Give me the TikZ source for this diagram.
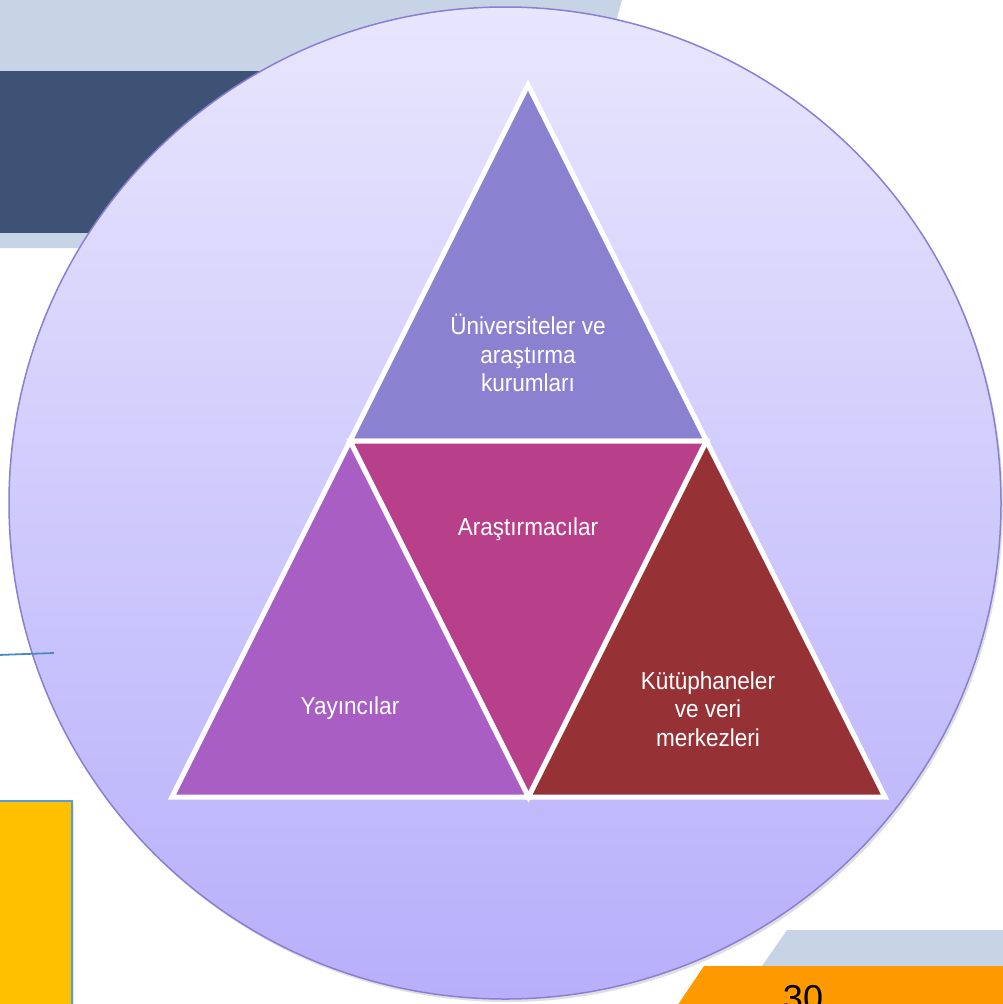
\documentclass[tikz,border=0pt]{standalone}
\usepackage{fontspec}
\setmainfont{Liberation Sans}
\newfontfamily\lblfont[FakeStretch=0.92]{Liberation Sans}
\usetikzlibrary{shadows}
\definecolor{bandlight}{HTML}{C6D4E6}
\definecolor{navy}{HTML}{3D5275}
\definecolor{circtop}{HTML}{E8E6FD}
\definecolor{circbot}{HTML}{B7AFFB}
\definecolor{circedge}{HTML}{8B7FD3}
\definecolor{tritop}{HTML}{8A82D0}
\definecolor{trimid}{HTML}{B83F8A}
\definecolor{trileft}{HTML}{A95EC4}
\definecolor{triright}{HTML}{963236}
\definecolor{linkblue}{HTML}{4A8AC0}
\definecolor{goldbox}{HTML}{FFC000}
\definecolor{boxedge}{HTML}{5B9BD5}
\definecolor{pageorange}{HTML}{FF9900}
\begin{document}
\begin{tikzpicture}[x=1pt,y=-1pt,
  seg/.style={draw=white,line width=5pt,line join=miter},
  lbl/.style={text=white,font=\lblfont\fontsize{24.5}{28.5}\selectfont,align=center,inner sep=0pt}]
\useasboundingbox (0,0) rectangle (1003,1004);
\clip (0,0) rectangle (1003,1004);
\fill[white] (0,0) rectangle (1003,1004);
% top-left decoration
\fill[bandlight] (0,0) -- (622,0) -- (552,248) -- (0,248) -- cycle;
\fill[navy] (0,71) rectangle (300,233);
% bottom-left box
\fill[goldbox,draw=boxedge,line width=1.5pt,drop shadow={shadow xshift=2pt,shadow yshift=-2pt,opacity=0.2}] (-5,801) rectangle (72,1012);
% bottom-right decoration
\fill[bandlight] (787,930) -- (1010,930) -- (1010,966) -- (762,966) -- cycle;
\fill[pageorange] (704,966) -- (1010,966) -- (1010,1012) -- (673,1012) -- cycle;
\node[anchor=north,inner sep=0pt,font=\fontsize{36}{40}\selectfont] (pagenum) at (803,985) {30};
% circle
\draw[circedge,line width=1.5pt,top color=circtop,bottom color=circbot,
  drop shadow={shadow xshift=2pt,shadow yshift=-3pt,opacity=0.25}] (505,503) circle[radius=496pt];
% thin blue line over the circle edge
\coordinate (bl1) at (-2,655);
\coordinate (bl2) at (54,653);
\draw[linkblue,line width=1.8pt] (bl1) -- (bl2);
% triangles
\coordinate (A) at (528,85);
\coordinate (L) at (172,797);
\coordinate (R) at (885,797);
\coordinate (ML) at (350,441);
\coordinate (MR) at (706.5,441);
\coordinate (MB) at (528.5,797);
\filldraw[seg,fill=tritop] (A) -- (ML) -- (MR) -- cycle;
\filldraw[seg,fill=trimid] (ML) -- (MR) -- (MB) -- cycle;
\filldraw[seg,fill=trileft] (ML) -- (L) -- (MB) -- cycle;
\filldraw[seg,fill=triright] (MR) -- (MB) -- (R) -- cycle;
\node[lbl] (uni) at (528,353) {Üniversiteler ve\\araştırma\\kurumları};
\node[lbl] (ara) at (528,529) {Araştırmacılar};
\node[lbl] (yay) at (350,708) {Yayıncılar};
\node[lbl] (kut) at (708,709) {Kütüphaneler\\ve veri\\merkezleri};
\end{tikzpicture}
\end{document}
